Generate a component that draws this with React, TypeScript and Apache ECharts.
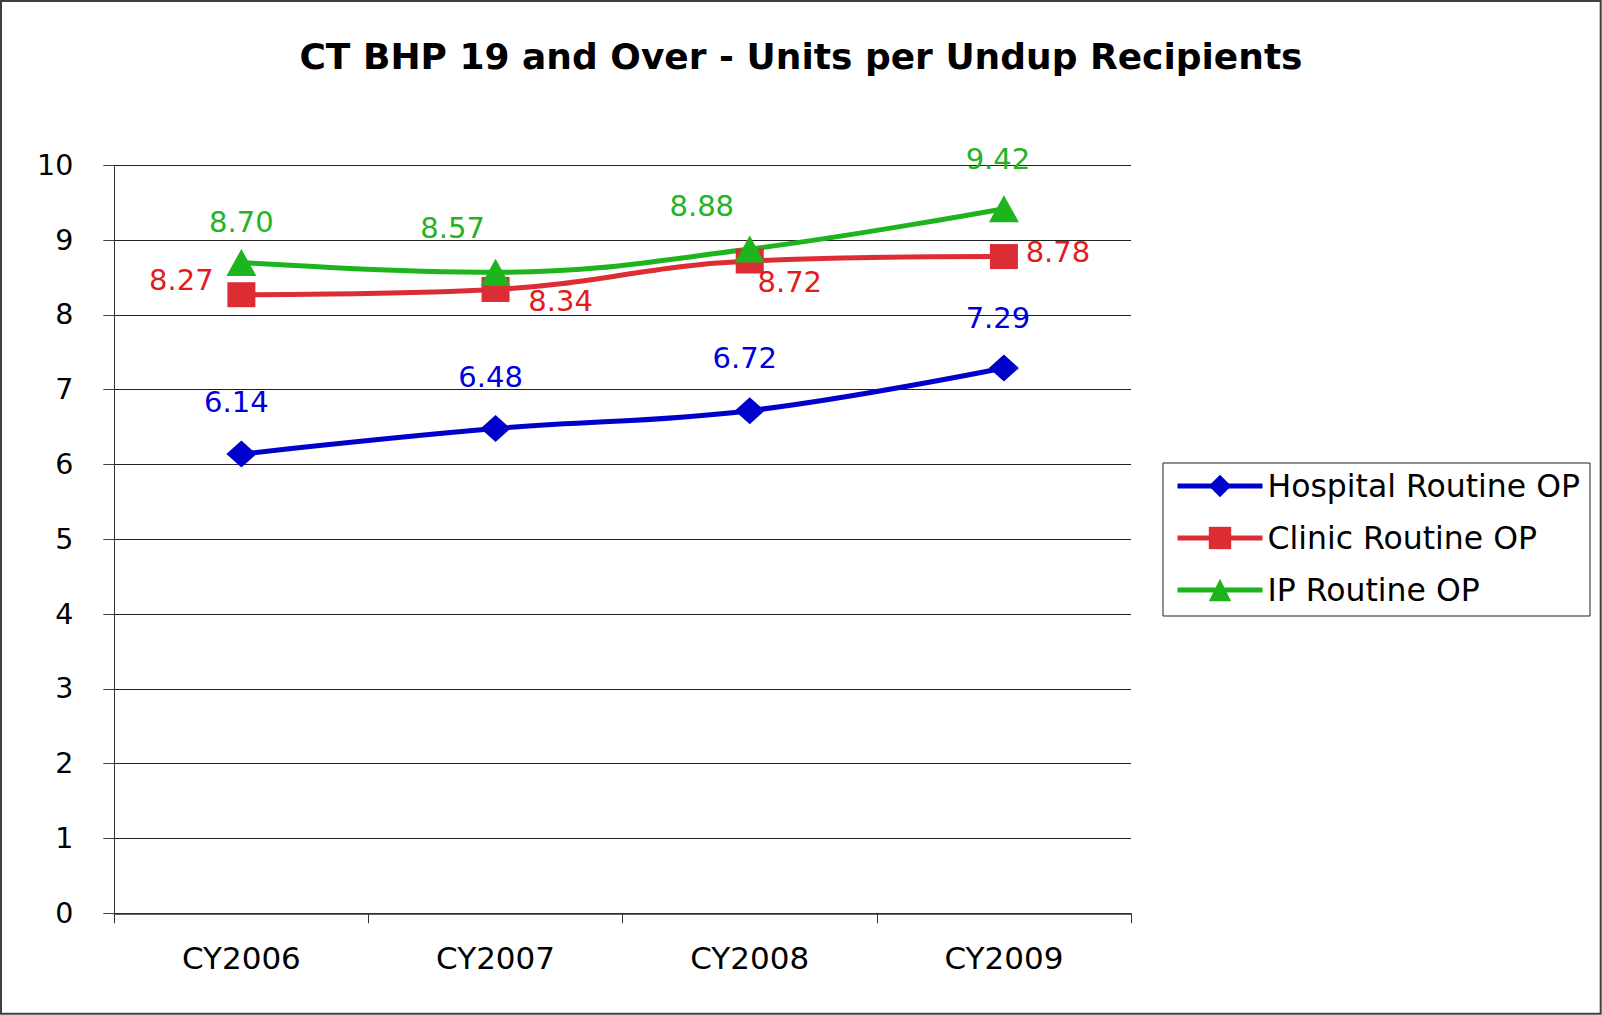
import React, { useEffect, useRef } from "react";
import * as echarts from "echarts";

const categories = ["CY2006", "CY2007", "CY2008", "CY2009"];
const seriesNames = ["Hospital Routine OP", "Clinic Routine OP", "IP Routine OP"];
const hospitalRoutineOP = [6.14, 6.48, 6.72, 7.29];
const clinicRoutineOP = [8.27, 8.34, 8.72, 8.78];
const ipRoutineOP = [8.7, 8.57, 8.88, 9.42];

const hospitalLabelOffsets = [[-5, -52], [-5, -52], [-5, -53], [-6, -50]];
const clinicLabelOffsets = [[-60, -15], [65, 12], [40, 21], [54, -5]];
const ipLabelOffsets = [[0, -41], [-43, -44], [-48, -43], [-6, -50]];

const FONT = "DejaVu Sans";

function buildData(values: number[], offsets: number[][]) {
  return values.map((v, i) => ({ value: v, label: { offset: offsets[i] } }));
}

function makeSeries(
  name: string,
  values: number[],
  offsets: number[][],
  lineColor: string,
  labelColor: string,
  symbol: string,
  symbolSize: number[]
) {
  return {
    name,
    type: "line",
    data: buildData(values, offsets),
    smooth: 0.4,
    symbol,
    symbolSize,
    showAllSymbol: true,
    lineStyle: { color: lineColor, width: 5 },
    itemStyle: { color: lineColor },
    label: {
      show: true,
      position: "inside",
      color: labelColor,
      fontFamily: FONT,
      fontSize: 29,
      align: "center",
      verticalAlign: "middle",
      formatter: (p: any) => Number(p.value).toFixed(2),
    },
    emphasis: { disabled: true },
  };
}

export default function App() {
  const ref = useRef<HTMLDivElement>(null);
  useEffect(() => {
    if (!ref.current) return;
    const chart = echarts.init(ref.current, undefined, { renderer: "svg" });
    chart.setOption({
      animation: false,
      backgroundColor: "#ffffff",
      textStyle: { fontFamily: FONT },
      title: {
        text: "CT BHP 19 and Over - Units per Undup Recipients",
        left: "center",
        top: 33,
        textStyle: { fontFamily: FONT, fontWeight: "bold", fontSize: 36, color: "#000" },
      },
      graphic: [
        {
          type: "rect",
          shape: { x: 1, y: 1, width: 1599.7, height: 1012.7 },
          style: { fill: "none", stroke: "#404040", lineWidth: 2 },
          silent: true,
          z: 100,
        },
      ],
      legend: {
        orient: "vertical",
        left: 1163,
        top: 463,
        padding: [7, 10, 10, 12],
        borderColor: "#222",
        borderWidth: 1,
        itemWidth: 85,
        itemHeight: 28,
        itemGap: 20,
        data: seriesNames,
        lineStyle: { width: 5 },
        textStyle: { fontFamily: FONT, fontSize: 31.5, color: "#000", lineHeight: 31 },
      },
      grid: { left: 114.3, right: 471, top: 165.3, bottom: 101.7, containLabel: false },
      xAxis: {
        type: "category",
        data: categories,
        boundaryGap: true,
        axisLine: { show: true, lineStyle: { color: "#333", width: 1.5 } },
        axisTick: { show: true, length: 10, inside: false, alignWithLabel: false, lineStyle: { color: "#333" } },
        axisLabel: { fontFamily: FONT, fontSize: 31, color: "#000", margin: 29 },
        splitLine: { show: false },
      },
      yAxis: {
        type: "value",
        min: 0,
        max: 10,
        interval: 1,
        axisLine: { show: true, lineStyle: { color: "#333", width: 1 } },
        axisTick: { show: true, length: 11, inside: false, lineStyle: { color: "#444" } },
        axisLabel: { fontFamily: FONT, fontSize: 28.5, color: "#000", margin: 41 },
        splitLine: { show: true, lineStyle: { color: "#222", width: 1 } },
      },
      series: [
        makeSeries(seriesNames[0], hospitalRoutineOP, hospitalLabelOffsets, "#0000CC", "#0000DD", "diamond", [30, 27]),
        makeSeries(seriesNames[1], clinicRoutineOP, clinicLabelOffsets, "#DC2D35", "#E41A1C", "rect", [28, 25]),
        makeSeries(seriesNames[2], ipRoutineOP, ipLabelOffsets, "#1EB41E", "#22B422", "triangle", [30, 27]),
      ],
    });
    return () => chart.dispose();
  }, []);
  return (
    <div
      ref={ref}
      style={{ position: "fixed", left: 0, top: 0, width: 1602, height: 1015, background: "#fff" }}
    />
  );
}
